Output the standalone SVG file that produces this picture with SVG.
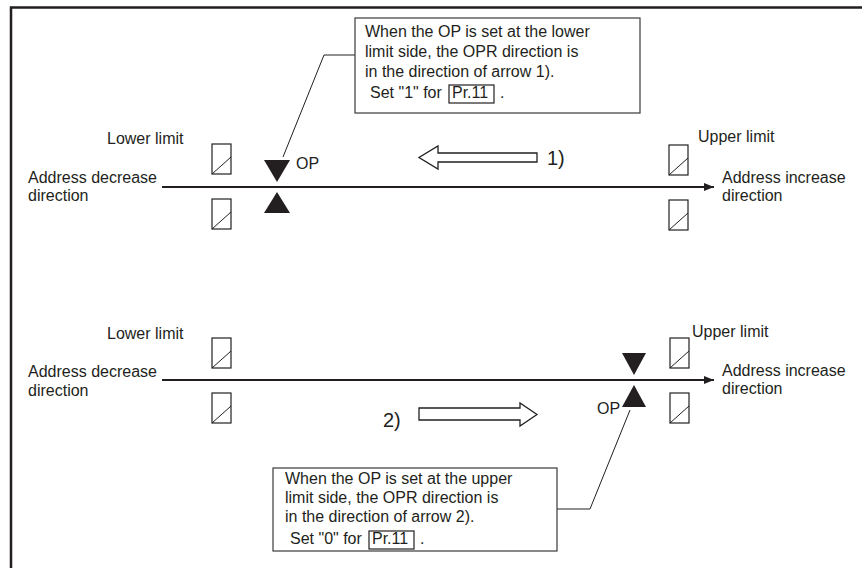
<svg xmlns="http://www.w3.org/2000/svg" width="862" height="568" viewBox="0 0 862 568">
<defs>
<style>
text{font-family:"Liberation Sans",Arial,sans-serif;font-size:16px;fill:#231f20}
.big{font-size:20px}
.frame{fill:none;stroke:#231f20;stroke-width:2.5}
.axis{stroke:#231f20;stroke-width:2;fill:none}
.thin{stroke:#231f20;stroke-width:1;fill:none}
.box{fill:#fff;stroke:#3a3a3a;stroke-width:1.2}
.lim{fill:#fff;stroke:#231f20;stroke-width:1.2}
.tri{fill:#231f20}
.hollow{fill:#fff;stroke:#231f20;stroke-width:1.3;stroke-linejoin:miter}
</style>
<marker id="ah" markerWidth="10" markerHeight="8" refX="10" refY="4" orient="auto" markerUnits="userSpaceOnUse">
<path d="M0,0 L10,4 L0,8 Z" fill="#231f20"/>
</marker>
<g id="limbox">
<rect class="lim" x="0" y="0" width="19" height="30"/>
<line class="thin" x1="0" y1="30" x2="19" y2="13"/>
</g>
</defs>
<rect width="862" height="568" fill="#fff"/>
<path class="frame" d="M11,568 L11,7.5 L862,7.5"/>

<g id="connectors">
<line class="axis" x1="162" y1="187" x2="714" y2="187" marker-end="url(#ah)"/>
<line class="axis" x1="162" y1="380" x2="714" y2="380" marker-end="url(#ah)"/>
<polyline class="thin" points="283,157 324,55 355,55"/>
<polyline class="thin" points="630,410 590,509 557,509"/>
</g>

<g id="top-section">
<g id="top-lower-limit">
<text x="107" y="144">Lower limit</text>
<use href="#limbox" x="212" y="144"/>
<use href="#limbox" x="212" y="199"/>
</g>
<g id="top-upper-limit">
<text x="698" y="142">Upper limit</text>
<use href="#limbox" x="669" y="145"/>
<use href="#limbox" x="669" y="200"/>
</g>
<g id="top-dec-label"><text x="28" y="183">Address decrease</text><text x="28" y="201">direction</text></g>
<g id="top-inc-label"><text x="722" y="183">Address increase</text><text x="722" y="201">direction</text></g>
<g id="top-op">
<path class="tri" d="M264,160 L290,160 L277,182 Z"/>
<path class="tri" d="M277,192 L290,213 L264,213 Z"/>
<text x="296" y="169">OP</text>
</g>
<g id="arrow1">
<path class="hollow" d="M537,153 L438,153 L438,146 L419,157.5 L438,169 L438,162 L537,162 Z"/>
<text class="big" x="547" y="165">1)</text>
</g>
<g id="note1">
<rect class="box" x="355" y="18" width="285" height="95"/>
<text x="365" y="37">When the OP is set at the lower</text>
<text x="365" y="57">limit side, the OPR direction is</text>
<text x="365" y="77">in the direction of arrow 1).</text>
<text x="370" y="98">Set "1" for</text>
<rect class="lim" x="449" y="85" width="45" height="18"/>
<text x="452" y="98">Pr.11</text>
<text x="500" y="98">.</text>
</g>
</g>

<g id="bottom-section">
<g id="bot-lower-limit">
<text x="107" y="339">Lower limit</text>
<use href="#limbox" x="212" y="338"/>
<use href="#limbox" x="212" y="393"/>
</g>
<g id="bot-upper-limit">
<text x="692" y="337">Upper limit</text>
<use href="#limbox" x="670" y="338"/>
<use href="#limbox" x="670" y="393"/>
</g>
<g id="bot-dec-label"><text x="28" y="377">Address decrease</text><text x="28" y="396">direction</text></g>
<g id="bot-inc-label"><text x="722" y="376">Address increase</text><text x="722" y="394">direction</text></g>
<g id="bot-op">
<path class="tri" d="M622,353 L646,353 L634,375 Z"/>
<path class="tri" d="M634,385 L646,407 L622,407 Z"/>
<text x="597" y="414">OP</text>
</g>
<g id="arrow2">
<path class="hollow" d="M419,408 L520,408 L520,403 L537,414.5 L520,426 L520,420 L419,420 Z"/>
<text class="big" x="383" y="427">2)</text>
</g>
<g id="note2">
<rect class="box" x="273" y="468" width="284" height="83"/>
<text x="285" y="484">When the OP is set at the upper</text>
<text x="285" y="503">limit side, the OPR direction is</text>
<text x="285" y="522">in the direction of arrow 2).</text>
<text x="290" y="544">Set "0" for</text>
<rect class="lim" x="369" y="531" width="45" height="18"/>
<text x="372" y="544">Pr.11</text>
<text x="420" y="544">.</text>
</g>
</g>
</svg>
